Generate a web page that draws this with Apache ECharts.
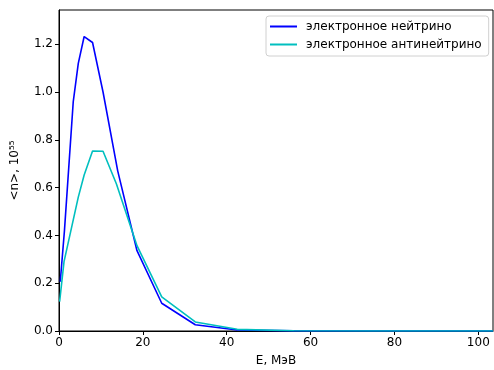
<!DOCTYPE html>
<html>
<head>
<meta charset="utf-8">
<script src="https://cdn.jsdelivr.net/npm/echarts@6/dist/echarts.min.js"></script>
<style>html,body{margin:0;padding:0;background:#fff;}#c{width:494px;height:370px;}</style>
</head>
<body>
<div id="c"></div>
<script>
// Energies (MeV) and mean numbers (10^55)
var eNu   = [0.3, 0.7, 1.3, 3.4, 4.6, 6.0, 8.0, 10.5, 14.0, 18.6, 24.5, 32.5, 42.5, 56, 74, 98, 103.5];
var nNu   = [0.206, 0.206, 0.42, 0.96, 1.12, 1.232, 1.207, 1.0, 0.67, 0.336, 0.116, 0.026, 0.004, 0.0005, 0, 0, 0];
var eANu  = [0.15, 0.5, 1.2, 3.4, 4.6, 6.0, 8.0, 10.5, 13.7, 18.6, 24.5, 32.5, 42.5, 56, 74, 98, 103.5];
var nANu  = [0.123, 0.123, 0.29, 0.465, 0.56, 0.653, 0.753, 0.752, 0.615, 0.357, 0.143, 0.038, 0.007, 0.001, 0, 0, 0];
var names = ['электронное нейтрино', 'электронное антинейтрино'];
var xTicks = [0, 20, 40, 60, 80, 100];
var yTicks = [0, 0.2, 0.4, 0.6, 0.8, 1.0, 1.2];

function pairs(xs, ys) { return xs.map(function (x, i) { return [x, ys[i]]; }); }
var FONT = 'DejaVu Sans';
var FS = 12;
var chart = echarts.init(document.getElementById('c'), null, {renderer: 'canvas'});
chart.setOption({
  animation: false,
  backgroundColor: '#fff',
  textStyle: {fontFamily: FONT},
  grid: {left: 59, right: 1, top: 10, bottom: 39, containLabel: false, outerBoundsMode: 'none',
         show: true, borderColor: '#000', borderWidth: 1, backgroundColor: 'transparent'},
  legend: {
    orient: 'vertical', left: 266, top: 16,
    icon: 'rect', itemWidth: 27, itemHeight: 2, itemGap: 5,
    padding: [4, 7, 5, 4],
    backgroundColor: '#fff', borderColor: '#d0d0d0', borderWidth: 1, borderRadius: 3,
    textStyle: {fontFamily: FONT, fontSize: FS, color: '#000', padding: [0, 0, 0, 4], lineHeight: 13},
    data: names
  },
  xAxis: {
    type: 'value', min: 0, max: 103.5, interval: 20,
    name: 'E, МэВ', nameLocation: 'middle', nameGap: 24,
    nameTextStyle: {fontFamily: FONT, fontSize: FS, color: '#000'},
    axisLine: {show: true, lineStyle: {color: '#000', width: 1}},
    axisTick: {show: true, length: 4, lineStyle: {color: '#000'}},
    splitLine: {show: false},
    axisLabel: {fontFamily: FONT, fontSize: FS, color: '#000', margin: 6, showMaxLabel: false,
      formatter: function (v) { return xTicks.indexOf(v) >= 0 ? String(v) : ''; }}
  },
  yAxis: {
    type: 'value', min: 0, max: 1.343, interval: 0.2,
    name: '<n>, 10⁵⁵', nameLocation: 'middle', nameGap: 38, nameRotate: 90,
    nameTextStyle: {fontFamily: FONT, fontSize: FS, color: '#000'},
    axisLine: {show: true, lineStyle: {color: '#000', width: 1}},
    axisTick: {show: true, length: 4, lineStyle: {color: '#000'}},
    splitLine: {show: false},
    axisLabel: {fontFamily: FONT, fontSize: FS, color: '#000', margin: 6, showMaxLabel: false,
      formatter: function (v) {
        for (var i = 0; i < yTicks.length; i++) if (Math.abs(yTicks[i] - v) < 1e-6) return v.toFixed(1);
        return '';
      }}
  },
  series: [
    {name: names[0], type: 'line', data: pairs(eNu, nNu), symbol: 'none', clip: true,
     lineStyle: {color: '#0000ff', width: 1.6}, itemStyle: {color: '#0000ff'}},
    {name: names[1], type: 'line', data: pairs(eANu, nANu), symbol: 'none', clip: true,
     lineStyle: {color: '#00bfbf', width: 1.6}, itemStyle: {color: '#00bfbf'}}
  ]
});
</script>
</body>
</html>
